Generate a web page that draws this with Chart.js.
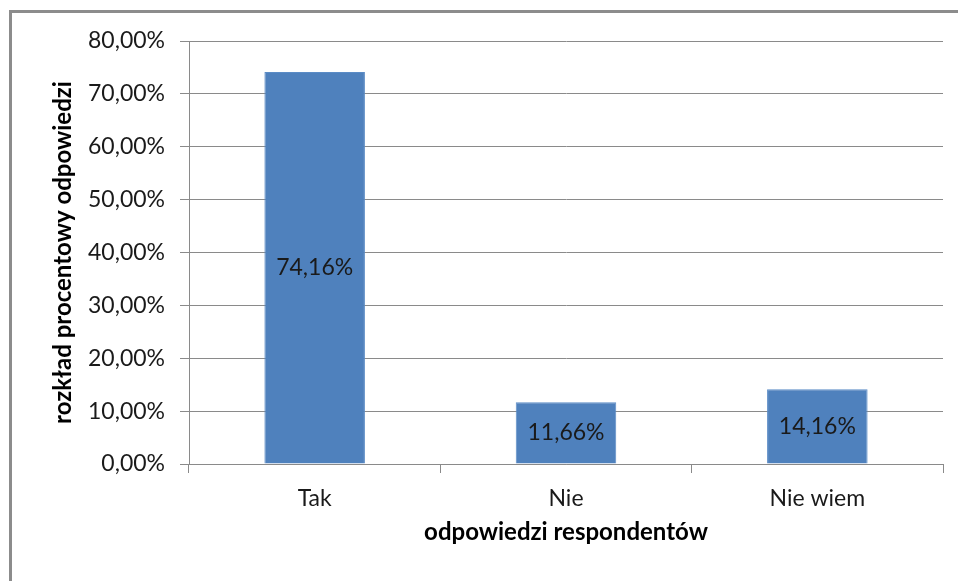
<!DOCTYPE html>
<html>
<head>
<meta charset="utf-8">
<script src="https://cdn.jsdelivr.net/npm/chart.js@4"></script>
<style>
  html, body { margin: 0; padding: 0; background: #ffffff; }
  #wrap { width: 958px; height: 581px; position: relative; }
</style>
</head>
<body>
<div id="wrap"><canvas id="odpChart" width="958" height="581"></canvas></div>
<script>
const categories = ['Tak', 'Nie', 'Nie wiem'];
const shares = [74.16, 11.66, 14.16];
const yTicks = [0, 10, 20, 30, 40, 50, 60, 70, 80];

const fontFamily = 'Lato, "Open Sans", sans-serif';
const gridGray = '#8a8a8a';

function pct(v) {
    return v.toFixed(2).replace('.', ',') + '%';
}

// ramka obrazka (gora i lewa krawedz)
const framePlugin = {
    id: 'frame',
    beforeDraw: function (chart) {
        const ctx = chart.ctx;
        ctx.save();
        ctx.fillStyle = '#8c8c8c';
        ctx.fillRect(9, 10, 949, 3);
        ctx.fillRect(9, 10, 3, 571);
        ctx.restore();
    }
};

// etykiety wartosci w srodku slupkow
const labelPlugin = {
    id: 'barLabels',
    afterDatasetsDraw: function (chart) {
        const ctx = chart.ctx;
        const meta = chart.getDatasetMeta(0);
        ctx.save();
        ctx.font = '23px ' + fontFamily;
        ctx.fillStyle = '#1a1a1a';
        ctx.textAlign = 'center';
        ctx.textBaseline = 'middle';
        meta.data.forEach(function (bar, i) {
            ctx.fillText(pct(shares[i]), bar.x, (bar.y + bar.base) / 2);
        });
        ctx.restore();
    }
};

const ctx = document.getElementById('odpChart').getContext('2d');
const odpChart = new Chart(ctx, {
    type: 'bar',
    data: {
        labels: categories,
        datasets: [{
            data: shares,
            backgroundColor: '#4f81bd',
            borderColor: '#5b8cc6',
            borderWidth: 1,
            categoryPercentage: 1.0,
            barPercentage: 0.4
        }]
    },
    options: {
        responsive: false,
        animation: false,
        layout: { padding: { top: 41, right: 15, left: 0, bottom: 0 } },
        plugins: {
            legend: { display: false },
            tooltip: { enabled: false }
        },
        scales: {
            x: {
                afterFit: function (scale) { scale.height = 581 - 464; },
                grid: {
                    offset: true,
                    drawOnChartArea: false,
                    color: gridGray,
                    tickLength: 9
                },
                border: { color: gridGray, width: 1 },
                ticks: {
                    color: '#1a1a1a',
                    font: { family: fontFamily, size: 23 },
                    padding: 12
                },
                title: {
                    display: true,
                    text: 'odpowiedzi respondentów',
                    color: '#000000',
                    font: { family: fontFamily, size: 24, weight: 'bold' },
                    padding: { top: 0, bottom: 34 }
                }
            },
            y: {
                min: 0,
                max: 80,
                afterFit: function (scale) { scale.width = 189; },
                afterBuildTicks: function (scale) {
                    scale.ticks = yTicks.map(function (v) { return { value: v }; });
                },
                grid: {
                    color: gridGray,
                    tickLength: 9
                },
                border: { color: gridGray, width: 1 },
                ticks: {
                    color: '#1a1a1a',
                    font: { family: fontFamily, size: 23 },
                    padding: 15,
                    callback: function (value) { return pct(value); }
                },
                title: {
                    display: true,
                    text: 'rozkład procentowy odpowiedzi',
                    color: '#000000',
                    font: { family: fontFamily, size: 24, weight: 'bold' },
                    padding: { top: 49, bottom: 0 }
                }
            }
        }
    },
    plugins: [framePlugin, labelPlugin]
});
</script>
</body>
</html>
